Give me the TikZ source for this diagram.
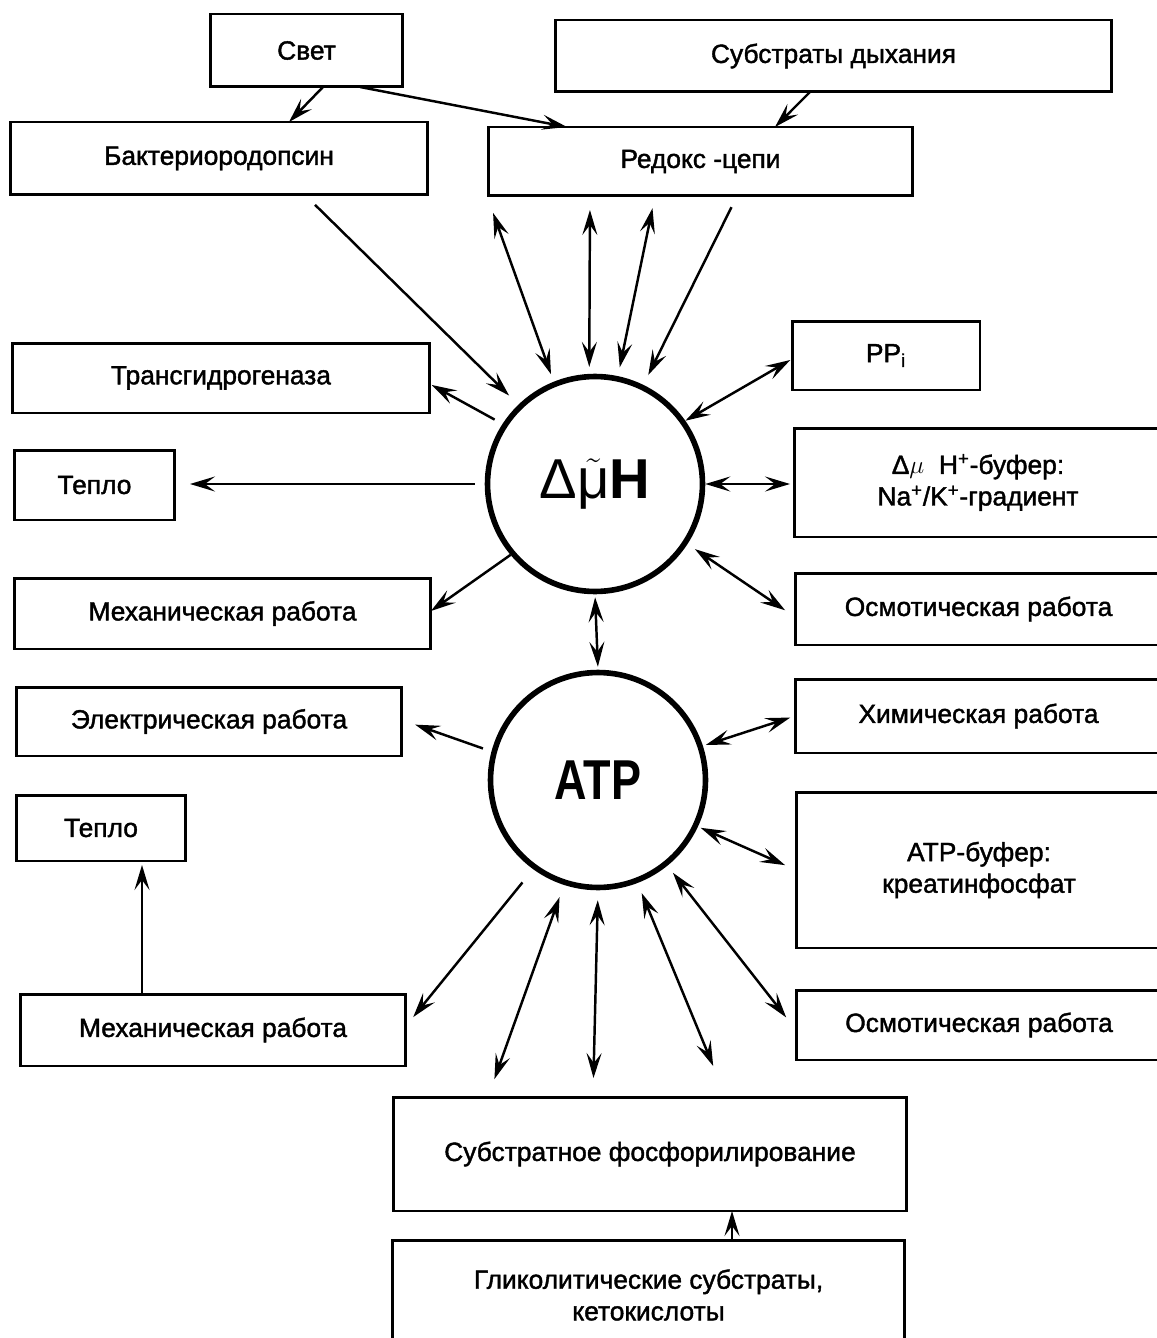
\documentclass[tikz,border=0pt]{standalone}
\usepackage{fontspec}
\setmainfont{Liberation Sans}
\newfontfamily\boxfont{Liberation Sans}[FakeBold=1.5]
\usepackage{graphicx}
\usetikzlibrary{arrows.meta}

\tikzset{
  box/.style={draw, line width=1.7pt, inner sep=0pt, outer sep=0pt, align=center,
    font=\boxfont\fontsize{15}{18}\selectfont},
  hub/.style={draw, circle, line width=3.2pt, minimum size=4.3cm, inner sep=0pt,
    font=\fontsize{32}{36}\selectfont},
  tip/.tip={Stealth[length=0.5cm,width=0.3cm,inset=0.2cm]},
  arr/.style={line width=1.4pt, -tip},
  darr/.style={line width=1.4pt, tip-tip},
}

\begin{document}
\begin{tikzpicture}[x=0.02cm, y=-0.02cm]
  \useasboundingbox (0,0) rectangle (1156,1338);

  % the two pools
  \node[hub] (dmu) at (595,484) {Δ$\tilde{\mbox{μ}}$\textbf{H}};
  \node[hub] (atp) at (598,780) {\scalebox{0.8}[1]{\textbf{ATP}}};

  % boxes, top
  \node[box, minimum width=3.86cm, minimum height=1.46cm] (svet) at (306.5,50.5) {Свет};
  \node[box, minimum width=11.14cm, minimum height=1.44cm] (subs) at (833.5,56) {Субстраты дыхания};
  \node[box, minimum width=8.36cm, minimum height=1.46cm] (bakt) at (219,158.5) {Бактериородопсин};
  \node[box, minimum width=8.5cm, minimum height=1.38cm] (redox) at (700.5,161.5) {Редокс -цепи};

  % boxes, left
  \node[box, minimum width=8.36cm, minimum height=1.4cm] (trans) at (221,378) {Трансгидрогеназа};
  \node[box, minimum width=3.22cm, minimum height=1.4cm] (teplo1) at (94.5,485) {Тепло};
  \node[box, minimum width=8.34cm, minimum height=1.42cm] (meh1) at (222.5,613.5) {Механическая работа};
  \node[box, minimum width=7.72cm, minimum height=1.38cm] (elec) at (209,721.5) {Электрическая работа};
  \node[box, minimum width=3.4cm, minimum height=1.32cm] (teplo2) at (101,828) {Тепло};
  \node[box, minimum width=7.72cm, minimum height=1.44cm] (meh2) at (213,1030) {Механическая работа};

  % boxes, right
  \node[box, minimum width=3.76cm, minimum height=1.38cm] (pp) at (886,355.5) {PP\textsubscript{i}};
  \node[box, minimum width=7.36cm, minimum height=2.18cm] (buf) at (978,482.5)
    {Δ$\mu$\ \ H\textsuperscript{+}-буфер:\\Na\textsuperscript{+}/K\textsuperscript{+}-градиент};
  \node[box, minimum width=7.34cm, minimum height=1.44cm] (osm1) at (978.5,609) {Осмотическая работа};
  \node[box, minimum width=7.34cm, minimum height=1.48cm] (chem) at (978.5,716) {Химическая работа};
  \node[box, minimum width=7.32cm, minimum height=3.12cm] (atpbuf) at (979,870) {ATP-буфер:\\креатинфосфат};
  \node[box, minimum width=7.32cm, minimum height=1.4cm] (osm2) at (979,1025) {Осмотическая работа};

  % boxes, bottom
  \node[box, minimum width=10.28cm, minimum height=2.28cm] (subphos) at (650,1154) {Субстратное фосфорилирование};
  \node[box, minimum width=10.26cm, minimum height=2.2cm] (glyk) at (648.5,1295) {Гликолитические субстраты,\\кетокислоты};

  % inputs at the top
  \draw[arr] (svet.south -| 323,0) -- (bakt.north -| 289,0);
  \draw[arr] (svet.south -| 360,0) -- (redox.north -| 567,0);
  \draw[arr] (subs.south -| 810,0) -- (redox.north -| 775,0);

  % into the proton potential
  \draw[arr, shorten <=0.28cm, shorten >=0.26cm] (bakt.south -| 305,0) -- (dmu.134);
  \draw[darr, shorten <=0.36cm, shorten >=0.16cm] (redox.south -| 487,0) -- (dmu.112);
  \draw[darr, shorten <=0.28cm, shorten >=0.14cm] (redox.south -| 590,0) -- (dmu.93);
  \draw[darr, shorten <=0.25cm, shorten >=0.18cm] (redox.south -| 655,0) -- (dmu.78);
  \draw[arr, shorten <=0.25cm, shorten >=0.22cm] (redox.south -| 737,0) -- (dmu.64);

  % out of the proton potential
  \draw[arr, shorten <=0.18cm, shorten >=0.04cm] (dmu.147) -- (trans.east |- 0,384);
  \draw[darr, shorten >=0.04cm] (dmu.35) -- (pp.west |- 0,359);
  \draw[arr, shorten <=0.2cm, shorten >=0.3cm] (dmu.west) -- (teplo1.east |- dmu.west);
  \draw[darr, shorten >=0.08cm] (dmu.east) -- (buf.west |- dmu.east);
  \draw[arr] (dmu.220) -- (meh1.east |- 0,611);
  \draw[darr, shorten <=0.18cm, shorten >=0.24cm] (dmu.-33) -- (osm1.west |- 0,617);
  \draw[darr, shorten <=0.06cm, shorten >=0.06cm] (dmu.south) -- (atp.north);

  % around ATP
  \draw[arr, shorten <=0.18cm, shorten >=0.28cm] (atp.165) -- (elec.east |- 0,720);
  \draw[darr, shorten <=0.06cm, shorten >=0.1cm] (atp.18) -- (chem.west |- 0,716);
  \draw[darr, shorten <=0.06cm, shorten >=0.24cm] (atp.-25) -- (atpbuf.west |- 0,870);
  \draw[arr, shorten <=0.34cm, shorten >=0.23cm] (atp.234) -- (meh2.east |- 0,1026);
  \draw[darr, shorten <=0.26cm, shorten >=0.38cm] (atp.252) -- (subphos.north -| 488,0);
  \draw[darr, shorten <=0.2cm, shorten >=0.38cm] (atp.270) -- (subphos.north -| 593,0);
  \draw[darr, shorten <=0.22cm, shorten >=0.67cm] (atp.-69) -- (subphos.north -| 726,0);
  \draw[darr, shorten <=0.18cm, shorten >=0.32cm] (atp.-51) -- (osm2.west |- 0,1030);

  % bottom links
  \draw[arr, shorten >=0.08cm] (meh2.north -| 142,0) -- (teplo2.south -| 142,0);
  \draw[arr] (glyk.north -| 732,0) -- (subphos.south -| 732,0);
\end{tikzpicture}
\end{document}
